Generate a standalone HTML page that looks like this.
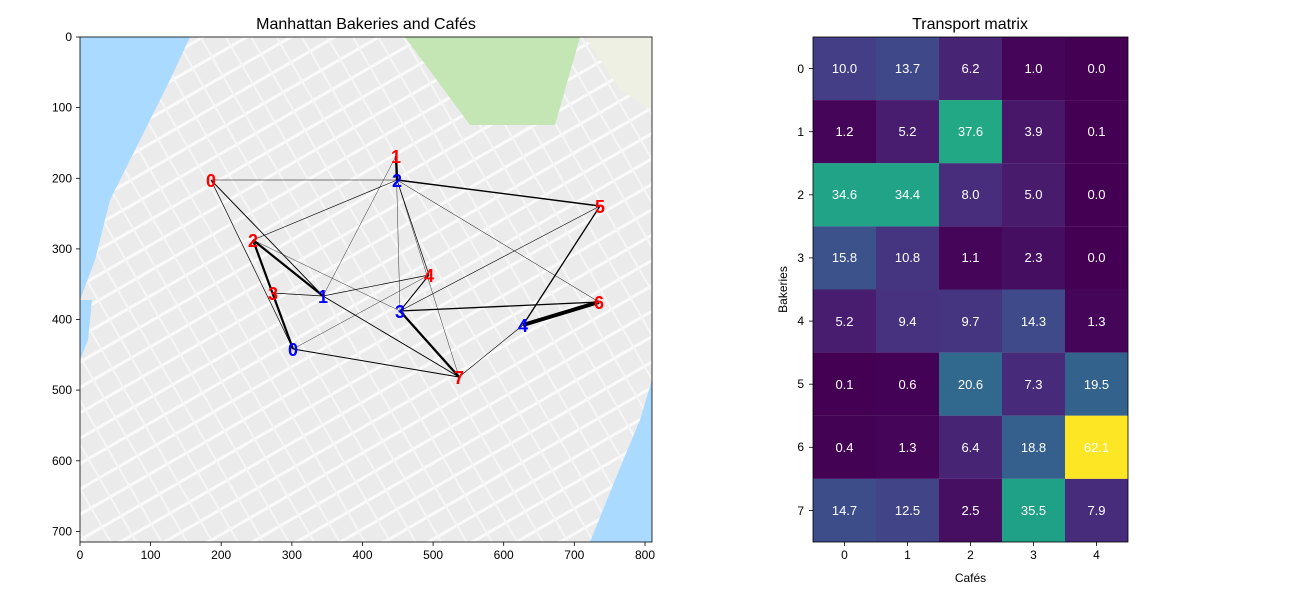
<!DOCTYPE html>
<html><head><meta charset="utf-8"><style>
body{margin:0;background:#fff;}
svg text{font-family:"Liberation Sans","DejaVu Sans",sans-serif;}
</style></head><body>
<svg width="1300" height="600" xmlns="http://www.w3.org/2000/svg">
<defs>
<pattern id="st" width="22" height="22" patternUnits="userSpaceOnUse" patternTransform="rotate(-30)">
<rect width="22" height="22" fill="#ebebeb"/>
<rect x="0" y="0" width="22" height="3" fill="#fafafa"/>
<rect x="0" y="0" width="2" height="22" fill="#f6f6f6"/>
</pattern>
<clipPath id="mc"><rect x="80" y="37" width="572" height="505"/></clipPath>
</defs>
<text x="366" y="29" font-size="16" text-anchor="middle">Manhattan Bakeries and Cafés</text>
<g clip-path="url(#mc)">
<rect x="80" y="37" width="572" height="505" fill="url(#st)"/>
<polygon points="80,37 190,37 170,80 140,140 110,200 95,260 80,300" fill="#aadaff"/>
<polygon points="80,300 92,300 88,340 80,360" fill="#aadaff"/>
<polygon points="652,380 652,542 590,542 615,480 640,420" fill="#aadaff"/>
<polygon points="405,37 580,37 555,125 470,125" fill="#c3e6b4"/>
<polygon points="585,37 652,37 652,110 620,90" fill="#eef0e4"/>
</g>
<g stroke="#000" fill="none">
<line x1="211" y1="180" x2="293" y2="349" stroke-width="0.7"/>
<line x1="211" y1="180" x2="323" y2="296" stroke-width="0.9"/>
<line x1="211" y1="180" x2="397" y2="180" stroke-width="0.5"/>
<line x1="396" y1="156" x2="323" y2="296" stroke-width="0.4"/>
<line x1="396" y1="156" x2="397" y2="180" stroke-width="2.4"/>
<line x1="396" y1="156" x2="400" y2="311" stroke-width="0.4"/>
<line x1="253" y1="240" x2="293" y2="349" stroke-width="2.2"/>
<line x1="253" y1="240" x2="323" y2="296" stroke-width="2.2"/>
<line x1="253" y1="240" x2="397" y2="180" stroke-width="0.6"/>
<line x1="253" y1="240" x2="400" y2="311" stroke-width="0.4"/>
<line x1="273" y1="293" x2="293" y2="349" stroke-width="1.1"/>
<line x1="273" y1="293" x2="323" y2="296" stroke-width="0.8"/>
<line x1="429" y1="275" x2="293" y2="349" stroke-width="0.4"/>
<line x1="429" y1="275" x2="323" y2="296" stroke-width="0.7"/>
<line x1="429" y1="275" x2="397" y2="180" stroke-width="0.7"/>
<line x1="429" y1="275" x2="400" y2="311" stroke-width="1"/>
<line x1="600" y1="206" x2="397" y2="180" stroke-width="1.4"/>
<line x1="600" y1="206" x2="400" y2="311" stroke-width="0.6"/>
<line x1="600" y1="206" x2="523" y2="325" stroke-width="1.3"/>
<line x1="599" y1="302" x2="397" y2="180" stroke-width="0.5"/>
<line x1="599" y1="302" x2="400" y2="311" stroke-width="1.3"/>
<line x1="599" y1="302" x2="523" y2="325" stroke-width="4"/>
<line x1="459" y1="377" x2="293" y2="349" stroke-width="1"/>
<line x1="459" y1="377" x2="323" y2="296" stroke-width="0.9"/>
<line x1="459" y1="377" x2="397" y2="180" stroke-width="0.4"/>
<line x1="459" y1="377" x2="400" y2="311" stroke-width="2.3"/>
<line x1="459" y1="377" x2="523" y2="325" stroke-width="0.6"/>
</g>
<g font-size="18" font-weight="bold" text-anchor="middle" fill="red">
<text x="211" y="187">0</text><text x="396" y="163">1</text><text x="253" y="247">2</text><text x="273" y="300">3</text>
<text x="429" y="282">4</text><text x="600" y="213">5</text><text x="599" y="309">6</text><text x="459" y="384">7</text>
</g>
<g font-size="18" font-weight="bold" text-anchor="middle" fill="blue">
<text x="293" y="356">0</text><text x="323" y="303">1</text><text x="397" y="187">2</text><text x="400" y="318">3</text><text x="523" y="332">4</text>
</g>
<rect x="80" y="37" width="572" height="505" fill="none" stroke="#000" stroke-width="0.8"/>
<g font-size="12" fill="#000" stroke="none">
<g text-anchor="middle">
<text x="80" y="559">0</text><text x="150.6" y="559">100</text><text x="221.2" y="559">200</text><text x="291.9" y="559">300</text><text x="362.5" y="559">400</text><text x="433.1" y="559">500</text><text x="503.7" y="559">600</text><text x="574.3" y="559">700</text><text x="645" y="559">800</text>
</g>
<g text-anchor="end">
<text x="72" y="41">0</text><text x="72" y="111.6">100</text><text x="72" y="182.3">200</text><text x="72" y="252.9">300</text><text x="72" y="323.5">400</text><text x="72" y="394.1">500</text><text x="72" y="464.8">600</text><text x="72" y="535.4">700</text>
</g>
</g>
<g stroke="#000" stroke-width="0.8">
<line x1="80" y1="542" x2="80" y2="546"/><line x1="150.6" y1="542" x2="150.6" y2="546"/><line x1="221.2" y1="542" x2="221.2" y2="546"/><line x1="291.9" y1="542" x2="291.9" y2="546"/><line x1="362.5" y1="542" x2="362.5" y2="546"/><line x1="433.1" y1="542" x2="433.1" y2="546"/><line x1="503.7" y1="542" x2="503.7" y2="546"/><line x1="574.3" y1="542" x2="574.3" y2="546"/><line x1="645" y1="542" x2="645" y2="546"/>
<line x1="76" y1="37" x2="80" y2="37"/><line x1="76" y1="107.6" x2="80" y2="107.6"/><line x1="76" y1="178.3" x2="80" y2="178.3"/><line x1="76" y1="248.9" x2="80" y2="248.9"/><line x1="76" y1="319.5" x2="80" y2="319.5"/><line x1="76" y1="390.1" x2="80" y2="390.1"/><line x1="76" y1="460.8" x2="80" y2="460.8"/><line x1="76" y1="531.4" x2="80" y2="531.4"/>
</g>

<text x="970" y="29" font-size="16" text-anchor="middle">Transport matrix</text>
<g>
<rect x="813" y="37" width="63" height="63.2" fill="#433e85"/><rect x="876" y="37" width="63" height="63.2" fill="#3f4889"/><rect x="939" y="37" width="63" height="63.2" fill="#482475"/><rect x="1002" y="37" width="63" height="63.2" fill="#450559"/><rect x="1065" y="37" width="63" height="63.2" fill="#440154"/>
<rect x="813" y="100.1" width="63" height="63.2" fill="#45065a"/><rect x="876" y="100.1" width="63" height="63.2" fill="#481c6e"/><rect x="939" y="100.1" width="63" height="63.2" fill="#22a884"/><rect x="1002" y="100.1" width="63" height="63.2" fill="#48176a"/><rect x="1065" y="100.1" width="63" height="63.2" fill="#440154"/>
<rect x="813" y="163.2" width="63" height="63.2" fill="#20a386"/><rect x="876" y="163.2" width="63" height="63.2" fill="#20a386"/><rect x="939" y="163.2" width="63" height="63.2" fill="#472d7b"/><rect x="1002" y="163.2" width="63" height="63.2" fill="#481b6d"/><rect x="1065" y="163.2" width="63" height="63.2" fill="#440154"/>
<rect x="813" y="226.4" width="63" height="63.2" fill="#3b528b"/><rect x="876" y="226.4" width="63" height="63.2" fill="#453581"/><rect x="939" y="226.4" width="63" height="63.2" fill="#450559"/><rect x="1002" y="226.4" width="63" height="63.2" fill="#460e61"/><rect x="1065" y="226.4" width="63" height="63.2" fill="#440154"/>
<rect x="813" y="289.5" width="63" height="63.2" fill="#481c6e"/><rect x="876" y="289.5" width="63" height="63.2" fill="#46327e"/><rect x="939" y="289.5" width="63" height="63.2" fill="#453581"/><rect x="1002" y="289.5" width="63" height="63.2" fill="#3e4a89"/><rect x="1065" y="289.5" width="63" height="63.2" fill="#45065a"/>
<rect x="813" y="352.6" width="63" height="63.2" fill="#440154"/><rect x="876" y="352.6" width="63" height="63.2" fill="#440256"/><rect x="939" y="352.6" width="63" height="63.2" fill="#31688e"/><rect x="1002" y="352.6" width="63" height="63.2" fill="#472a7a"/><rect x="1065" y="352.6" width="63" height="63.2" fill="#33638d"/>
<rect x="813" y="415.7" width="63" height="63.2" fill="#440255"/><rect x="876" y="415.7" width="63" height="63.2" fill="#45065a"/><rect x="939" y="415.7" width="63" height="63.2" fill="#482475"/><rect x="1002" y="415.7" width="63" height="63.2" fill="#355f8d"/><rect x="1065" y="415.7" width="63" height="63.2" fill="#fde725"/>
<rect x="813" y="478.9" width="63" height="63.1" fill="#3d4d8a"/><rect x="876" y="478.9" width="63" height="63.1" fill="#414487"/><rect x="939" y="478.9" width="63" height="63.1" fill="#460f62"/><rect x="1002" y="478.9" width="63" height="63.1" fill="#1fa187"/><rect x="1065" y="478.9" width="63" height="63.1" fill="#472c7b"/>
</g>
<g font-size="13" fill="#fff" text-anchor="middle">
<text x="844.5" y="73">10.0</text><text x="907.5" y="73">13.7</text><text x="970.5" y="73">6.2</text><text x="1033.5" y="73">1.0</text><text x="1096.5" y="73">0.0</text>
<text x="844.5" y="136">1.2</text><text x="907.5" y="136">5.2</text><text x="970.5" y="136">37.6</text><text x="1033.5" y="136">3.9</text><text x="1096.5" y="136">0.1</text>
<text x="844.5" y="199">34.6</text><text x="907.5" y="199">34.4</text><text x="970.5" y="199">8.0</text><text x="1033.5" y="199">5.0</text><text x="1096.5" y="199">0.0</text>
<text x="844.5" y="262">15.8</text><text x="907.5" y="262">10.8</text><text x="970.5" y="262">1.1</text><text x="1033.5" y="262">2.3</text><text x="1096.5" y="262">0.0</text>
<text x="844.5" y="326">5.2</text><text x="907.5" y="326">9.4</text><text x="970.5" y="326">9.7</text><text x="1033.5" y="326">14.3</text><text x="1096.5" y="326">1.3</text>
<text x="844.5" y="389">0.1</text><text x="907.5" y="389">0.6</text><text x="970.5" y="389">20.6</text><text x="1033.5" y="389">7.3</text><text x="1096.5" y="389">19.5</text>
<text x="844.5" y="452">0.4</text><text x="907.5" y="452">1.3</text><text x="970.5" y="452">6.4</text><text x="1033.5" y="452">18.8</text><text x="1096.5" y="452">62.1</text>
<text x="844.5" y="515">14.7</text><text x="907.5" y="515">12.5</text><text x="970.5" y="515">2.5</text><text x="1033.5" y="515">35.5</text><text x="1096.5" y="515">7.9</text>
</g>
<rect x="813" y="37" width="315" height="505" fill="none" stroke="#000" stroke-width="0.8"/>
<g stroke="#000" stroke-width="0.8">
<line x1="844.5" y1="542" x2="844.5" y2="546"/><line x1="907.5" y1="542" x2="907.5" y2="546"/><line x1="970.5" y1="542" x2="970.5" y2="546"/><line x1="1033.5" y1="542" x2="1033.5" y2="546"/><line x1="1096.5" y1="542" x2="1096.5" y2="546"/>
<line x1="809" y1="68.6" x2="813" y2="68.6"/><line x1="809" y1="131.7" x2="813" y2="131.7"/><line x1="809" y1="194.8" x2="813" y2="194.8"/><line x1="809" y1="257.9" x2="813" y2="257.9"/><line x1="809" y1="321.1" x2="813" y2="321.1"/><line x1="809" y1="384.2" x2="813" y2="384.2"/><line x1="809" y1="447.3" x2="813" y2="447.3"/><line x1="809" y1="510.4" x2="813" y2="510.4"/>
</g>
<g font-size="12" fill="#000">
<g text-anchor="middle"><text x="844.5" y="559">0</text><text x="907.5" y="559">1</text><text x="970.5" y="559">2</text><text x="1033.5" y="559">3</text><text x="1096.5" y="559">4</text></g>
<g text-anchor="end"><text x="804" y="73">0</text><text x="804" y="136">1</text><text x="804" y="199">2</text><text x="804" y="262">3</text><text x="804" y="325">4</text><text x="804" y="388">5</text><text x="804" y="451">6</text><text x="804" y="515">7</text></g>
<text x="970.5" y="582" text-anchor="middle">Cafés</text>
<text x="787" y="289.5" text-anchor="middle" transform="rotate(-90 787 289.5)">Bakeries</text>
</g>
</svg>
</body></html>
